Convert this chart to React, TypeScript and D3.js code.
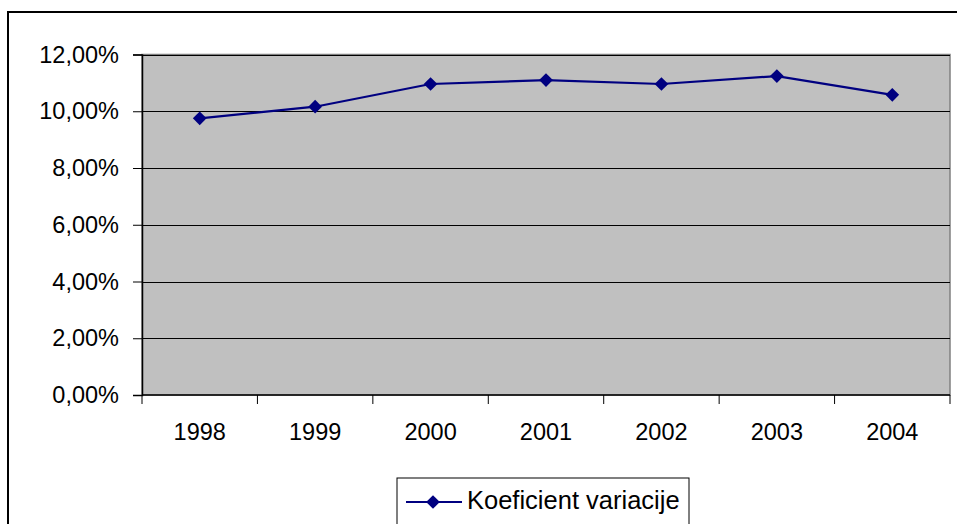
import React, { useEffect, useRef } from 'react'
import * as d3 from 'd3'

const years: string[] = ['1998', '1999', '2000', '2001', '2002', '2003', '2004']
const koeficient: number[] = [9.75, 10.16, 10.96, 11.1, 10.96, 11.24, 10.58]
const yTicks: number[] = [0, 2, 4, 6, 8, 10, 12]
const seriesName = 'Koeficient variacije'

const App = () => {
  const svgRef = useRef<SVGSVGElement | null>(null)
  const width = 957
  const height = 524

  useEffect(() => {
    const svg = d3.select(svgRef.current)
    svg.selectAll('*').remove()

    const plot = { left: 142, right: 950, top: 54.5, bottom: 395 }
    const font = "'Liberation Sans', Arial, sans-serif"
    const navy = '#000080'

    // outer frame
    svg.append('rect')
      .attr('x', 8).attr('y', 12)
      .attr('width', 1000).attr('height', 600)
      .attr('fill', 'white').attr('stroke', 'black').attr('stroke-width', 2)

    const x = d3.scaleBand().domain(years).range([plot.left, plot.right])
    const y = d3.scaleLinear().domain([0, 12]).range([plot.bottom, plot.top])

    // plot area
    svg.append('rect')
      .attr('x', plot.left).attr('y', plot.top)
      .attr('width', plot.right - plot.left).attr('height', plot.bottom - plot.top)
      .attr('fill', '#c0c0c0').attr('stroke', '#808080').attr('stroke-width', 1.5)

    // gridlines
    svg.append('g')
      .selectAll('line')
      .data(yTicks.filter(d => d > 0))
      .join('line')
      .attr('x1', plot.left).attr('x2', plot.right)
      .attr('y1', d => Math.round(y(d)) + 0.5).attr('y2', d => Math.round(y(d)) + 0.5)
      .attr('stroke', 'black').attr('stroke-width', 1)

    // y axis
    const yAxis = d3.axisLeft(y)
      .tickValues(yTicks)
      .tickSize(9)
      .tickPadding(23)
      .tickFormat(d => (d as number).toFixed(2).replace('.', ',') + '%')
    const gy = svg.append('g').attr('transform', `translate(${plot.left},0)`).call(yAxis)
    gy.select('.domain').attr('stroke', 'black').attr('stroke-width', 1.5)
    gy.selectAll('text').attr('font-family', font).attr('font-size', 23.5).attr('fill', 'black')
    gy.selectAll('.tick text').attr('x', -23)

    // x axis
    const gx = svg.append('g').attr('transform', `translate(0,${plot.bottom})`)
    gx.append('line')
      .attr('x1', plot.left).attr('x2', plot.right)
      .attr('stroke', 'black').attr('stroke-width', 1.5)
    const bounds = years.map(d => x(d)!).concat([plot.right])
    gx.selectAll('line.tick')
      .data(bounds)
      .join('line')
      .attr('class', 'tick')
      .attr('x1', d => d).attr('x2', d => d)
      .attr('y1', 0).attr('y2', 9)
      .attr('stroke', 'black')
    gx.selectAll('text')
      .data(years)
      .join('text')
      .attr('x', d => x(d)! + x.bandwidth() / 2)
      .attr('y', 45)
      .attr('text-anchor', 'middle')
      .attr('font-family', font).attr('font-size', 23.5)
      .text(d => d)

    // series
    const line = d3.line<number>()
      .x((_, i) => x(years[i])! + x.bandwidth() / 2)
      .y(d => y(d))
    svg.append('path')
      .datum(koeficient)
      .attr('d', line)
      .attr('fill', 'none').attr('stroke', navy).attr('stroke-width', 2.2)

    const diamond = d3.symbol().type(d3.symbolDiamond2).size(120)
    svg.append('g')
      .selectAll('path')
      .data(koeficient)
      .join('path')
      .attr('d', diamond)
      .attr('transform', (d, i) => `translate(${x(years[i])! + x.bandwidth() / 2},${y(d)})`)
      .attr('fill', navy)

    // legend
    const lg = svg.append('g')
    lg.append('rect')
      .attr('x', 397).attr('y', 478)
      .attr('width', 292).attr('height', 80)
      .attr('fill', 'white').attr('stroke', 'black').attr('stroke-width', 1)
    lg.append('line')
      .attr('x1', 406).attr('x2', 462).attr('y1', 502).attr('y2', 502)
      .attr('stroke', navy).attr('stroke-width', 2.2)
    lg.append('path')
      .attr('d', diamond)
      .attr('transform', 'translate(433,502)')
      .attr('fill', navy)
    lg.append('text')
      .attr('x', 467).attr('y', 509)
      .attr('font-family', font).attr('font-size', 25.5)
      .text(seriesName)
  }, [])

  return (
    <svg ref={svgRef}
      width={width}
      height={height}
      style={{ position: 'absolute', left: 0, top: 0, background: 'white' }}
    />
  )
}

export default App
